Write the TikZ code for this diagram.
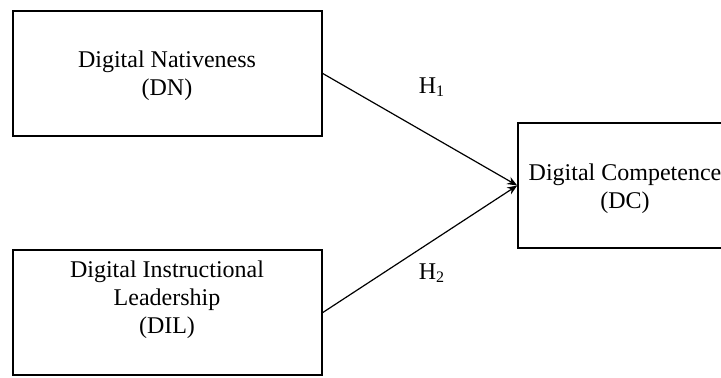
\documentclass[tikz,border=0pt]{standalone}
\usepackage{fontspec}
\setmainfont{Liberation Serif}
\usetikzlibrary{arrows.meta}
\begin{document}
\begin{tikzpicture}[
  x=0.5pt, y=-0.5pt,
  box/.style={rectangle, draw, line width=0.8pt, minimum width=154.5pt, minimum height=62.5pt, inner sep=0pt},
  txt/.style={align=center, font=\fontsize{12}{14}\selectfont},
  arr/.style={-{Stealth[length=5pt, width=4pt]}, line width=0.6pt},
  hyp/.style={font=\fontsize{12}{14}\selectfont},
]
  \useasboundingbox (0,0) rectangle (721,377);

  % Construct boxes
  \node[box] (dn) at (167.5, 73.5) {};
  \node[box] (dil) at (167.5, 312.5) {};
  \node[box, minimum width=107.5pt] (dc) at (625.5, 185.5) {};

  % Box texts
  \node[txt] (dntxt) at (167, 76) {Digital Nativeness\\(DN)};
  \node[txt] (diltxt) at (167, 300) {Digital Instructional\\Leadership\\(DIL)};
  \node[txt] (dctxt) at (625, 189) {Digital Competence\\(DC)};

  % Hypothesised paths
  \draw[arr] (dn.east) -- (dc.west);
  \draw[arr] (dil.east) -- (dc.west);
  \node[hyp] (h1) at (432, 87) {H\textsubscript{1}};
  \node[hyp] (h2) at (432, 273) {H\textsubscript{2}};
\end{tikzpicture}
\end{document}
